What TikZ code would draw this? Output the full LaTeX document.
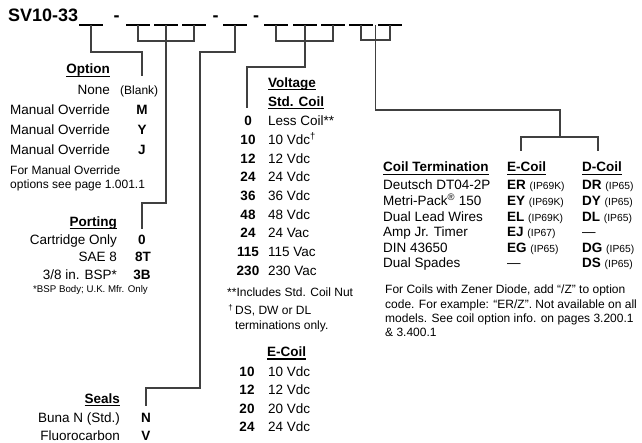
\documentclass[tikz,border=0pt]{standalone}
\usepackage{fontspec}
\setmainfont{Liberation Sans}
\usetikzlibrary{calc}

\newcommand\titlefont{\fontsize{18}{20}\selectfont\bfseries}
\newcommand\bodyfont{\fontsize{13.5}{16}\selectfont}
\newcommand\notefont{\fontsize{12}{14}\selectfont}
\newcommand\smallfont{\fontsize{9.7}{11}\selectfont}
\newcommand\ipfont{\fontsize{10.3}{12}\selectfont}
\newcommand\ulhead[1]{\setbox0\hbox{#1}\rlap{\rule[-2.8pt]{\wd0}{1.2pt}}\box0}
\newcommand\cd[1]{\textbf{#1}}
\newcommand\ip[1]{{\ipfont(#1)}}

\begin{document}
\begin{tikzpicture}[x=1pt, y=-1pt, every node/.style={inner sep=0},
	lbl/.style={anchor=base east, font=\bodyfont},
	itm/.style={anchor=base west, font=\bodyfont},
	code/.style={anchor=base, font=\bodyfont\bfseries},
	hd/.style={font=\bodyfont\bfseries},
	note/.style={anchor=base west, font=\notefont},
	blank/.style={minimum width=23, minimum height=0},
	uscore/.style={line width=1.8pt},
	wire/.style={line width=1.3pt, draw=black!75}]
	\useasboundingbox (0,0) rectangle (642,443);

	% model code
	\node[anchor=base west, font=\titlefont] (title) at (8,21.7) {SV10-33};
	\foreach \x [count=\i] in {91,138,166,194,235,276,305,333,361,390} {
		\node[blank] (b\i) at (\x,25) {};
		\draw[uscore] (b\i.west) -- (b\i.east);
	}
	\foreach \x [count=\i] in {116.5,215.5,256}
		\node[anchor=base, font=\titlefont] (dash\i) at (\x,22) {-};

	% option
	\node[hd, anchor=base east] (opthd) at (110,74) {\ulhead{Option}};
	\node[lbl] (none) at (110,94.3) {None};
	\node[anchor=base west, font=\notefont] (blank) at (120,94.3) {(Blank)};
	\foreach \c [count=\k] in {M,Y,J} {
		\node[lbl] (mo\k) at (110,94.3+20*\k) {Manual Override};
		\node[code] (mc\k) at (142,94.3+20*\k) {\c};
	}
	\node[note] (optnote1) at (10,175) {For Manual Override};
	\node[note] (optnote2) at (10,189) {options see page 1.001.1};

	% porting
	\node[hd, anchor=base east] (porthd) at (117,226.5) {\ulhead{Porting}};
	\node[lbl] (port1) at (117,244.3) {Cartridge Only};
	\node[code] (pc1) at (142,244.3) {0};
	\node[lbl] (port2) at (117,262) {SAE 8};
	\node[code] (pc2) at (143,262) {8T};
	\node[lbl] (port3) at (117,280) {3/8 in. BSP*};
	\node[code] (pc3) at (142,280) {3B};
	\node[anchor=base west, font=\smallfont] (bspnote) at (33,292.5) {*BSP Body; U.K. Mfr. Only};

	% seals
	\node[hd, anchor=base east] (sealhd) at (120,403.5) {\ulhead{Seals}};
	\node[lbl] (seal1) at (120,422.5) {Buna N (Std.)};
	\node[code] (sc1) at (146,422.5) {N};
	\node[lbl] (seal2) at (120,440.5) {Fluorocarbon};
	\node[code] (sc2) at (146,440.5) {V};

	% voltage
	\node[hd, anchor=base west] (volthd) at (268,87.3) {\ulhead{Voltage}};
	\node[hd, anchor=base west] (stdhd) at (268,106.7) {\ulhead{Std. Coil}};
	\foreach \n/\v [count=\k from 0] in {0/Less Coil**, 10/10 Vdc\textsuperscript{\dag}, 12/12 Vdc, 24/24 Vdc,
		36/36 Vdc, 48/48 Vdc, 24/24 Vac, 115/115 Vac, 230/230 Vac} {
		\node[code] (vn\k) at (248,126+18.65*\k) {\n};
		\node[itm] (vd\k) at (268,126+18.65*\k) {\v};
	}
	\node[note] (coilnut) at (227,296.7) {**Includes Std. Coil Nut};
	\node[note] (dagnote1) at (235,315) {\llap{\textsuperscript{\dag}\,}DS, DW or DL};
	\node[note] (dagnote2) at (235,329.3) {terminations only.};

	% e-coil voltage
	\node[hd, anchor=base west] (ecoilhd) at (267,356.7) {\ulhead{E-Coil}};
	\foreach \n [count=\k from 0] in {10,12,20,24} {
		\node[code] (en\k) at (247,376+18.6*\k) {\n};
		\node[itm] (ed\k) at (268,376+18.6*\k) {\n\ Vdc};
	}

	% coil termination
	\node[hd, anchor=base west] (termhd) at (383,172) {\ulhead{Coil Termination}};
	\node[hd, anchor=base west] (ehd) at (507,172) {\ulhead{E-Coil}};
	\node[hd, anchor=base west] (dhd) at (582,172) {\ulhead{D-Coil}};
	\foreach \t/\e/\d [count=\k from 0] in {
		Deutsch DT04-2P/\cd{ER} \ip{IP69K}/\cd{DR} \ip{IP65},
		Metri-Pack\textsuperscript{\textregistered} 150/\cd{EY} \ip{IP69K}/\cd{DY} \ip{IP65},
		Dual Lead Wires/\cd{EL} \ip{IP69K}/\cd{DL} \ip{IP65},
		Amp Jr. Timer/\cd{EJ} \ip{IP67}/---,
		DIN 43650/\cd{EG} \ip{IP65}/\cd{DG} \ip{IP65},
		Dual Spades/---/\cd{DS} \ip{IP65}} {
		\node[itm] (tt\k) at (383,190+15.6*\k) {\t};
		\node[itm] (te\k) at (507,190+15.6*\k) {\e};
		\node[itm] (td\k) at (582,190+15.6*\k) {\d};
	}
	\foreach \l [count=\k from 0] in {{For Coils with Zener Diode, add “/Z” to option},
		{code. For example: “ER/Z”. Not available on all},
		{models. See coil option info. on pages 3.200.1},
		{\& 3.400.1}}
		\node[note] (zener\k) at (385,294+14.3*\k) {\l};

	% connectors
	\coordinate (optend) at (142,76);
	\coordinate (portend) at (142,229);
	\coordinate (sealend) at (146,406);
	\coordinate (voltend) at (247,108);
	\coordinate (cfork) at (560,137);
	\coordinate (eend) at (521,151);
	\coordinate (dend) at (598,151);

	\draw[wire] (b1.center) -- ++(0,27) -| (optend);
	\draw[wire] (b2.center) -- ++(0,16) -| (b4.center);
	\draw[wire] (b3.center) -- ++(0,178) -| (portend);
	\draw[wire] (b5.center) -- ++(0,27) -| ++(-35,336) -| (sealend);
	\draw[wire] (b6.center) -- ++(0,16) -| (b8.center);
	\draw[wire] (b7.center) -- ++(0,42) -| (voltend);
	\draw[wire] (b9.center) -- ++(0,15) -| (b10.center);
	\draw[wire] ($(b9.center)!.5!(b10.center)$) -- ++(0,85) -| (cfork);
	\draw[wire] (eend) -- ++(0,-14) -| (dend);
\end{tikzpicture}
\end{document}
